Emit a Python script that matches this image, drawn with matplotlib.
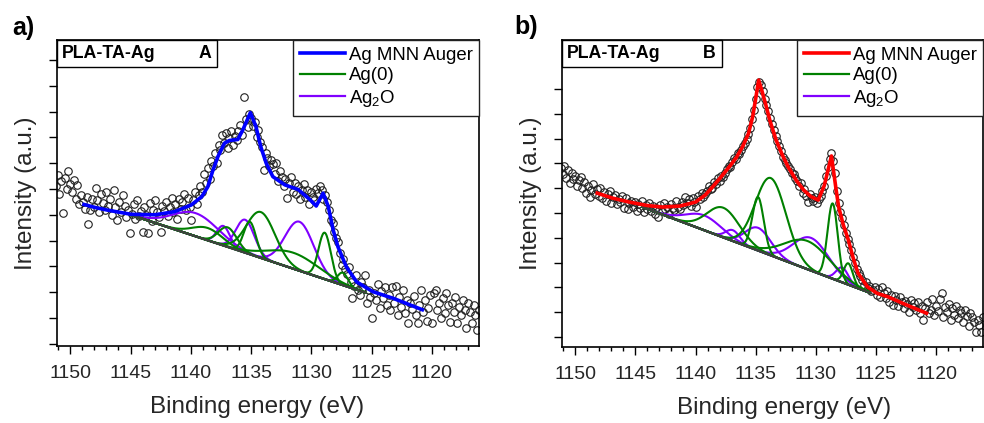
import numpy as np
import matplotlib
matplotlib.use('Agg')
import matplotlib.pyplot as plt
from matplotlib.patches import Rectangle
from matplotlib.ticker import MultipleLocator, FixedLocator, NullFormatter

plt.rcParams['font.family'] = ['Liberation Sans', 'DejaVu Sans']
plt.rcParams['mathtext.fontset'] = 'custom'
plt.rcParams['mathtext.rm'] = 'Liberation Sans'

# measured energy grid (eV), 0.15 eV steps, same for both samples
energy = np.linspace(1151.2, 1116.1, 235)

# sample A raw counts (a.u.)
counts_a = [
    2.55, 2.78, 2.40, 2.65, 2.03, 2.72, 2.50, 2.85, 2.60, 2.45,
    2.67, 2.30, 2.58, 2.20, 2.38, 2.25, 2.12, 2.35, 1.82, 2.09,
    2.30, 2.15, 2.52, 2.28, 2.05, 2.40, 2.22, 2.10, 2.44, 2.18,
    2.30, 2.00, 2.48, 2.15, 1.90, 2.25, 2.05, 2.38, 2.18, 1.95,
    2.10, 1.65, 2.02, 2.20, 1.92, 2.29, 1.98, 2.08, 1.67, 2.15,
    2.00, 1.65, 2.22, 1.88, 2.10, 2.29, 2.05, 1.95, 1.67, 2.18,
    2.08, 2.25, 1.98, 2.15, 2.32, 2.05, 2.20, 1.92, 2.30, 2.12,
    2.25, 2.40, 2.09, 2.32, 2.15, 1.90, 2.28, 2.45, 2.20, 2.38,
    2.55, 2.45, 2.80, 2.62, 2.90, 2.70, 3.05, 2.95, 3.20, 3.00,
    3.35, 3.25, 3.55, 3.40, 3.58, 3.30, 3.48, 3.62, 3.35, 3.52,
    3.45, 3.62, 3.75, 3.55, 4.28, 3.85, 3.70, 3.95, 3.88, 3.72,
    3.80, 3.50, 3.65, 3.42, 3.31, 2.87, 3.20, 3.10, 2.95, 3.06,
    2.98, 2.80, 3.00, 2.65, 2.85, 2.73, 2.55, 2.70, 2.33, 2.62,
    2.73, 2.45, 2.62, 2.40, 2.55, 2.30, 2.48, 2.60, 2.35, 2.48,
    2.20, 2.45, 2.34, 2.28, 2.50, 2.42, 2.55, 2.48, 2.30, 2.38,
    2.25, 2.10, 1.90, 1.85, 1.67, 1.55, 1.47, 1.25, 1.03, 1.15,
    0.95, 0.85, 0.98, 0.70, 0.39, 0.62, 0.83, 0.55, 0.45, 0.70,
    0.60, 0.83, 0.30, 0.55, 0.41, 0.00, 0.48, 0.35, 0.65, 0.20,
    0.52, 0.38, 0.60, 0.25, 0.45, 0.15, 0.60, 0.30, 0.62, 0.05,
    0.40, 0.22, 0.55, 0.10, 0.35, -0.10, 0.30, 0.18, 0.42, 0.05,
    -0.10, 0.25, 0.54, 0.12, 0.35, -0.05, 0.20, 0.45, -0.10, 0.48,
    0.54, 0.15, 0.30, 0.00, 0.38, 0.10, 0.48, 0.25, -0.08, 0.30,
    0.12, 0.40, -0.10, 0.22, 0.05, 0.35, 0.15, -0.20, 0.30, 0.12,
    -0.10, 0.25, 0.05, -0.23, 0.15,
]

# sample B raw counts (a.u.)
counts_b = [
    3.40, 3.28, 3.45, 3.20, 3.37, 3.10, 3.30, 3.18, 3.25, 3.05,
    3.17, 3.22, 3.00, 3.12, 2.90, 3.05, 2.83, 2.96, 3.08, 2.88,
    2.98, 2.85, 3.00, 2.80, 2.92, 2.75, 2.88, 2.95, 2.70, 2.82,
    2.86, 2.68, 2.78, 2.72, 2.85, 2.60, 2.80, 2.58, 2.70, 2.75,
    2.62, 2.72, 2.55, 2.68, 2.60, 2.75, 2.52, 2.66, 2.58, 2.70,
    2.55, 2.64, 2.48, 2.60, 2.42, 2.66, 2.55, 2.70, 2.58, 2.62,
    2.48, 2.68, 2.60, 2.56, 2.75, 2.62, 2.58, 2.72, 2.66, 2.83,
    2.70, 2.78, 2.65, 2.80, 2.72, 2.62, 2.85, 2.78, 2.90, 2.82,
    2.88, 2.95, 3.05, 2.98, 3.00, 3.12, 3.08, 3.20, 3.15, 3.25,
    3.22, 3.30, 3.38, 3.45, 3.42, 3.52, 3.60, 3.58, 3.70, 3.68,
    3.78, 3.85, 3.92, 4.00, 4.10, 4.22, 4.40, 4.58, 4.80, 5.05,
    5.15, 5.08, 4.95, 4.80, 4.68, 4.55, 4.42, 4.30, 4.18, 4.05,
    3.95, 3.85, 3.75, 3.62, 3.57, 3.50, 3.45, 3.38, 3.30, 3.28,
    3.20, 3.15, 3.05, 3.10, 2.90, 2.98, 2.85, 2.72, 2.88, 2.80,
    2.75, 2.82, 2.70, 2.78, 2.85, 2.95, 3.05, 3.25, 3.42, 3.58,
    3.70, 3.55, 3.30, 2.95, 2.70, 2.52, 2.40, 2.25, 2.10, 1.98,
    1.88, 1.75, 1.62, 1.50, 1.38, 1.30, 1.22, 1.15, 1.05, 1.10,
    0.98, 1.02, 0.92, 0.95, 1.01, 0.85, 0.96, 0.80, 1.01, 0.88,
    0.78, 0.92, 0.70, 0.85, 0.65, 0.82, 0.75, 0.62, 0.80, 0.70,
    0.58, 0.72, 0.66, 0.50, 0.75, 0.60, 0.68, 0.55, 0.70, 0.48,
    0.62, 0.34, 0.58, 0.70, 0.48, 0.55, 0.77, 0.45, 0.62, 0.52,
    0.77, 0.88, 0.40, 0.60, 0.50, 0.66, 0.35, 0.58, 0.45, 0.62,
    0.38, 0.55, 0.48, 0.30, 0.55, 0.42, 0.22, 0.48, 0.40, 0.30,
    0.10, 0.35, 0.25, 0.10, 0.40,
]

# fitted envelopes (Ag MNN Auger)
env_a_e = [1148.86, 1147.9, 1146.9, 1144.97, 1143.0, 1141.36, 1139.97, 1139.1, 1138.6, 1138.2,
           1137.75, 1137.2, 1136.8, 1136.1, 1135.7, 1135.06, 1134.6, 1134.2, 1133.75, 1133.2,
           1132.2, 1131.1, 1130.1, 1129.6, 1129.03, 1128.6, 1128.2, 1127.8, 1127.1, 1126.25,
           1124.9, 1123.2, 1120.8]
env_a_y = [2.20, 2.14, 2.09, 2.01, 2.00, 2.06, 2.19, 2.35, 2.54, 2.84,
           3.13, 3.39, 3.44, 3.46, 3.64, 3.98, 3.71, 3.32, 3.00, 2.74,
           2.58, 2.49, 2.29, 2.17, 2.42, 2.16, 1.71, 1.38, 0.99, 0.70,
           0.51, 0.38, 0.16]

env_b_e = [1148.17, 1146.9, 1145.5, 1144.0, 1142.75, 1141.3, 1140.0, 1139.2, 1138.6, 1137.9,
           1137.2, 1136.6, 1136.1, 1135.6, 1135.25, 1135.0, 1134.75, 1134.5, 1134.2, 1133.8,
           1133.3, 1132.8, 1132.3, 1131.6, 1131.0, 1130.4, 1129.8, 1129.3, 1128.7, 1128.3,
           1128.1, 1127.7, 1127.3, 1126.9, 1126.5, 1125.7, 1124.9, 1124.0, 1122.5, 1120.8]
env_b_y = [2.90, 2.80, 2.72, 2.65, 2.62, 2.64, 2.72, 2.86, 3.02, 3.22,
           3.43, 3.62, 3.83, 4.10, 4.44, 4.80, 5.18, 4.98, 4.72, 4.35,
           3.97, 3.68, 3.43, 3.15, 2.96, 2.83, 2.76, 3.05, 3.65, 2.95,
           2.62, 2.25, 1.96, 1.60, 1.29, 1.01, 0.88, 0.81, 0.65, 0.48]

# linear background: (start eV, y), (end eV, y)
bg_a = [(1145.0, 2.00), (1125.5, 0.49)]
bg_b = [(1144.4, 2.62), (1125.5, 0.89)]

# fitted components: (position eV, height above background, FWHM eV)
ag0_a = [(1138.6, 0.24, 3.0), (1136.95, 0.38, 1.8), (1135.1, 0.63, 1.2), (1134.2, 0.89, 2.8),
         (1131.5, 0.31, 5.0), (1128.9, 0.90, 1.2), (1127.4, 0.24, 1.0)]
ag2o_a = [(1139.6, 0.45, 4.5), (1137.3, 0.38, 1.3), (1135.5, 0.64, 1.8), (1131.0, 0.95, 2.8)]

ag0_b = [(1137.7, 0.60, 3.2), (1134.8, 1.08, 1.1), (1133.75, 1.56, 3.0), (1130.7, 0.57, 4.5),
         (1128.6, 1.52, 1.0), (1127.3, 0.43, 0.9)]
ag2o_b = [(1139.3, 0.30, 3.5), (1136.9, 0.22, 1.4), (1134.8, 0.46, 2.5), (1130.4, 0.66, 3.5),
          (1127.8, 0.30, 1.2)]

env_colors = {'A': '#0000ff', 'B': '#ff0000'}
green = '#008000'
purple = '#8000ff'


def draw_panel(ax, counts, env_e, env_y, bg, ag0, ag2o, sample, yl, yticks, xlab_x):
    ax.plot(energy, counts, 'o', ms=5.4, mfc='none', mec='#202020', mew=0.8, zorder=2)

    xb = np.linspace(bg[0][0], bg[1][0], 400)
    yb = bg[0][1] + (bg[1][1] - bg[0][1]) * (xb - bg[0][0]) / (bg[1][0] - bg[0][0])
    for c, h, w in ag2o:
        ax.plot(xb, yb + h * np.exp(-4 * np.log(2) * ((xb - c) / w) ** 2), color=purple, lw=1.5, zorder=3)
    for c, h, w in ag0:
        ax.plot(xb, yb + h * np.exp(-4 * np.log(2) * ((xb - c) / w) ** 2), color=green, lw=1.5, zorder=3)
    ax.plot(xb, yb, color='#404040', lw=1.6, zorder=4)
    ax.plot(env_e, env_y, color=env_colors[sample], lw=2.6, zorder=5, solid_joinstyle='round')

    ax.set_xlim(1151.1, 1116.1)
    ax.set_ylim(*yl)
    ax.xaxis.set_major_locator(MultipleLocator(5))
    ax.xaxis.set_minor_locator(MultipleLocator(1))
    ax.yaxis.set_major_locator(FixedLocator(yticks))
    ax.yaxis.set_major_formatter(NullFormatter())
    ax.tick_params(axis='x', which='major', length=6, width=1.0, labelsize=14, pad=8,
                   labelcolor='#262626')
    ax.tick_params(axis='x', which='minor', length=3, width=1.0)
    ax.tick_params(axis='y', which='major', length=6, width=1.0)
    for sp in ax.spines.values():
        sp.set_linewidth(1.2)
    ax.set_xlabel('Binding energy (eV)', fontsize=17.5, color='#262626')
    ax.xaxis.set_label_coords(xlab_x, -0.162)
    ax.set_ylabel('Intensity (a.u.)', fontsize=17.5, color='#262626', labelpad=5)

    # sample box at top left
    ax.add_patch(Rectangle((0, 1 - 27 / 306), 160 / 422, 27 / 306, transform=ax.transAxes,
                           fill=False, ec='black', lw=1.0, zorder=6, clip_on=False))
    ax.text(5 / 422, 1 - 13.5 / 306, 'PLA-TA-Ag', transform=ax.transAxes, fontsize=12.8,
            fontweight='bold', va='center', ha='left', zorder=7)
    ax.text(148 / 422, 1 - 13.5 / 306, sample, transform=ax.transAxes, fontsize=12.8,
            fontweight='bold', va='center', ha='center', zorder=7)

    handles = [plt.Line2D([], [], color=env_colors[sample], lw=2.6),
               plt.Line2D([], [], color=green, lw=1.6),
               plt.Line2D([], [], color=purple, lw=1.6)]
    leg = ax.legend(handles, ['Ag MNN Auger', 'Ag(0)', 'Ag$_\\mathrm{2}$O'], loc='upper right',
                    borderaxespad=0, fontsize=13.4, handlelength=2.45, handletextpad=0.18,
                    labelspacing=0.2, borderpad=0.35, fancybox=False, framealpha=1,
                    edgecolor='#202020')
    leg.get_frame().set_linewidth(1.0)
    leg.set_zorder(8)


fig = plt.figure(figsize=(9.84, 4.23), dpi=100)
ax_a = fig.add_axes([57 / 984, 77 / 423, 422 / 984, 306 / 423])
ax_b = fig.add_axes([562 / 984, 76 / 423, 421 / 984, 307 / 423])

draw_panel(ax_a, counts_a, env_a_e, env_a_y, bg_a, ag0_a, ag2o_a, 'A',
           (-0.543, 5.388), np.arange(-0.5, 5.01, 0.5), 0.474)
draw_panel(ax_b, counts_b, env_b_e, env_b_y, bg_b, ag0_b, ag2o_b, 'B',
           (-0.202, 5.988), np.arange(0, 5.01, 0.5), 0.527)

fig.text(12 / 984, 1 - 28 / 423, 'a)', fontsize=18, fontweight='bold', va='center', ha='left')
fig.text(514 / 984, 1 - 27 / 423, 'b)', fontsize=18, fontweight='bold', va='center', ha='left')

fig.savefig('out.png', dpi=100)
